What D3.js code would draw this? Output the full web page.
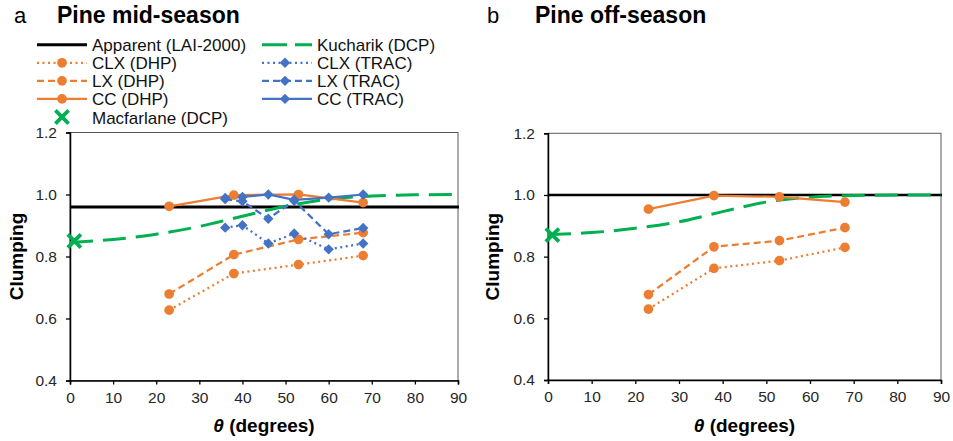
<!DOCTYPE html>
<html>
<head>
<meta charset="utf-8">
<script src="https://cdn.jsdelivr.net/npm/d3@7"></script>
<style>
  body { margin: 0; background: #fff; }
  svg { font-family: "Liberation Sans", Arial, sans-serif; }
</style>
</head>
<body>
<svg id="chart" width="953" height="441"></svg>
<script>
// x values (view zenith angle, degrees)
const dhpAngles = [23, 38, 53, 68];
const tracAngles = [36, 40, 46, 52, 60, 68];
const kucharikAngles = [0, 10, 20, 30, 40, 50, 60, 70, 80, 90];
const xTicks = [0, 10, 20, 30, 40, 50, 60, 70, 80, 90];
const yTicks = [0.4, 0.6, 0.8, 1.0, 1.2];

// panel a: pine mid-season
const midApparent = 0.96;
const midMacfarlane = [1, 0.85];
const midKucharik = [0.845, 0.855, 0.872, 0.897, 0.93, 0.962, 0.985, 0.995, 0.999, 1.0];
const midClxDhp = [0.627, 0.745, 0.774, 0.803];
const midLxDhp = [0.679, 0.806, 0.855, 0.877];
const midCcDhp = [0.962, 0.998, 1.0, 0.974];
const midClxTrac = [0.893, 0.901, 0.842, 0.874, 0.823, 0.842];
const midLxTrac = [0.985, 0.978, 0.922, 0.98, 0.872, 0.892];
const midCcTrac = [0.989, 0.992, 1.0, 0.983, 0.99, 1.0];

// panel b: pine off-season
const offApparent = 1.0;
const offMacfarlane = [1, 0.87];
const offKucharik = [0.872, 0.878, 0.892, 0.913, 0.946, 0.977, 0.993, 0.998, 1.0, 1.0];
const offClxDhp = [0.63, 0.762, 0.787, 0.83];
const offLxDhp = [0.677, 0.832, 0.852, 0.894];
const offCcDhp = [0.954, 0.998, 0.994, 0.977];

const orange = '#ED7D31';
const blue = '#4472C4';
const green = '#00B050';
const dotted = '2,3.5';
const dashed = '7,4';
const longDash = '23,10';
const circleSize = 74;
const diamondSize = 54;

const svg = d3.select('#chart');

function drawPanel(opts) {
  const x = d3.scaleLinear().domain([0, 90]).range(opts.xRange);
  const y = d3.scaleLinear().domain([0.4, 1.2]).range(opts.yRange);
  const g = svg.append('g');

  // plot frame (top and right)
  g.append('rect')
    .attr('x', x(0)).attr('y', y(1.2))
    .attr('width', x(90) - x(0)).attr('height', y(0.4) - y(1.2))
    .attr('fill', 'none').attr('stroke', '#595959').attr('stroke-width', 1);

  const xAxis = g.append('g')
    .attr('transform', `translate(0,${y(0.4)})`)
    .call(d3.axisBottom(x).tickValues(xTicks).tickSize(4).tickPadding(7).tickFormat(d3.format('d')));
  const yAxis = g.append('g')
    .attr('transform', `translate(${x(0)},0)`)
    .call(d3.axisLeft(y).tickValues(yTicks).tickSize(4).tickPadding(9).tickFormat(d3.format('.1f')));
  [xAxis, yAxis].forEach(a => {
    a.select('.domain').attr('stroke', '#000').attr('stroke-width', 1.5);
    a.selectAll('.tick line').attr('stroke', '#000').attr('stroke-width', 1.3);
    a.selectAll('text').attr('font-size', 15.5).attr('fill', '#262626')
      .attr('font-family', '"Liberation Sans", Arial, sans-serif');
  });

  // axis titles
  const xt = g.append('text')
    .attr('x', (x(0) + x(90)) / 2).attr('y', 432)
    .attr('text-anchor', 'middle').attr('font-size', 19).attr('font-weight', 'bold');
  xt.append('tspan').attr('font-style', 'italic').text('θ');
  xt.append('tspan').text(' (degrees)');
  g.append('text')
    .attr('transform', `translate(${opts.yTitleX},${(y(0.4) + y(1.2)) / 2}) rotate(-90)`)
    .attr('text-anchor', 'middle').attr('font-size', 19).attr('font-weight', 'bold')
    .text('Clumping');

  // panel label and title
  g.append('text').attr('x', opts.labelX).attr('y', 23).attr('font-size', 22).text(opts.label);
  g.append('text').attr('x', opts.titleX).attr('y', 23).attr('font-size', 23)
    .attr('font-weight', 'bold').text(opts.title);

  // apparent clumping (LAI-2000)
  g.append('line')
    .attr('x1', x(0)).attr('x2', x(90) + 1)
    .attr('y1', y(opts.apparent)).attr('y2', y(opts.apparent))
    .attr('stroke', '#000').attr('stroke-width', opts.apparentWidth);

  // Kucharik model curve
  const kLine = d3.line().x((d, i) => x(kucharikAngles[i])).y(d => y(d)).curve(d3.curveMonotoneX);
  g.append('path').datum(opts.kucharik)
    .attr('d', kLine).attr('fill', 'none')
    .attr('stroke', green).attr('stroke-width', 3).attr('stroke-dasharray', longDash);

  const series = opts.series;
  series.forEach(s => {
    const line = d3.line().x((d, i) => x(s.angles[i])).y(d => y(d));
    g.append('path').datum(s.values)
      .attr('d', line).attr('fill', 'none')
      .attr('stroke', s.color).attr('stroke-width', 2.25)
      .attr('stroke-dasharray', s.dash);
  });
  series.forEach(s => {
    const pts = g.append('g').selectAll('path').data(s.values).join('path')
      .attr('fill', s.color);
    if (s.marker === 'circle') {
      pts.attr('d', d3.symbol(d3.symbolCircle, circleSize)())
        .attr('transform', (d, i) => `translate(${x(s.angles[i])},${y(d)})`);
    } else {
      pts.attr('d', d3.symbol(d3.symbolSquare, diamondSize)())
        .attr('transform', (d, i) => `translate(${x(s.angles[i])},${y(d)}) rotate(45)`);
    }
  });

  // Macfarlane DCP point
  g.append('path')
    .attr('d', d3.symbol(d3.symbolX, 115)())
    .attr('transform', `translate(${x(opts.macfarlane[0])},${y(opts.macfarlane[1])})`)
    .attr('fill', 'none').attr('stroke', green).attr('stroke-width', 3.8);
}

drawPanel({
  xRange: [70, 458], yRange: [380.5, 132.5], yTitleX: 23,
  label: 'a', labelX: 14, title: 'Pine mid-season', titleX: 57,
  apparent: midApparent, apparentWidth: 3, kucharik: midKucharik, macfarlane: midMacfarlane,
  series: [
    { angles: dhpAngles, values: midClxDhp, color: orange, dash: dotted, marker: 'circle' },
    { angles: dhpAngles, values: midLxDhp, color: orange, dash: dashed, marker: 'circle' },
    { angles: dhpAngles, values: midCcDhp, color: orange, dash: null, marker: 'circle' },
    { angles: tracAngles, values: midClxTrac, color: blue, dash: dotted, marker: 'diamond' },
    { angles: tracAngles, values: midLxTrac, color: blue, dash: dashed, marker: 'diamond' },
    { angles: tracAngles, values: midCcTrac, color: blue, dash: null, marker: 'diamond' }
  ]
});

drawPanel({
  xRange: [548, 941], yRange: [380, 133.3], yTitleX: 499,
  label: 'b', labelX: 487, title: 'Pine off-season', titleX: 535,
  apparent: offApparent, apparentWidth: 2.5, kucharik: offKucharik, macfarlane: offMacfarlane,
  series: [
    { angles: dhpAngles, values: offClxDhp, color: orange, dash: dotted, marker: 'circle' },
    { angles: dhpAngles, values: offLxDhp, color: orange, dash: dashed, marker: 'circle' },
    { angles: dhpAngles, values: offCcDhp, color: orange, dash: null, marker: 'circle' }
  ]
});

// legend
const legendItems = [
  { label: 'Apparent (LAI-2000)', col: 0, row: 0, color: '#000', dash: null, width: 3, marker: null },
  { label: 'Kucharik (DCP)', col: 1, row: 0, color: green, dash: '25,8', width: 3, marker: null },
  { label: 'CLX (DHP)', col: 0, row: 1, color: orange, dash: dotted, width: 2.25, marker: 'circle' },
  { label: 'CLX (TRAC)', col: 1, row: 1, color: blue, dash: dotted, width: 2.25, marker: 'diamond' },
  { label: 'LX (DHP)', col: 0, row: 2, color: orange, dash: dashed, width: 2.25, marker: 'circle' },
  { label: 'LX (TRAC)', col: 1, row: 2, color: blue, dash: dashed, width: 2.25, marker: 'diamond' },
  { label: 'CC (DHP)', col: 0, row: 3, color: orange, dash: null, width: 2.25, marker: 'circle' },
  { label: 'CC (TRAC)', col: 1, row: 3, color: blue, dash: null, width: 2.25, marker: 'diamond' },
  { label: 'Macfarlane (DCP)', col: 0, row: 4, color: green, dash: null, width: 0, marker: 'x' }
];
const legendX = [37, 262];
const legendY = d3.scaleLinear().domain([0, 4]).range([44.7, 117]);
const legend = svg.append('g').selectAll('g').data(legendItems).join('g')
  .attr('transform', d => `translate(${legendX[d.col]},${legendY(d.row)})`);
legend.filter(d => d.width > 0).append('line')
  .attr('x1', 0).attr('x2', 50).attr('y1', 0).attr('y2', 0)
  .attr('stroke', d => d.color).attr('stroke-width', d => d.width)
  .attr('stroke-dasharray', d => d.dash);
legend.filter(d => d.marker === 'circle').append('path')
  .attr('d', d3.symbol(d3.symbolCircle, circleSize)()).attr('transform', 'translate(25,0)')
  .attr('fill', d => d.color);
legend.filter(d => d.marker === 'diamond').append('path')
  .attr('d', d3.symbol(d3.symbolSquare, diamondSize)()).attr('transform', 'translate(23,0) rotate(45)')
  .attr('fill', d => d.color);
legend.filter(d => d.marker === 'x').append('path')
  .attr('d', d3.symbol(d3.symbolX, 115)()).attr('transform', 'translate(25,0)')
  .attr('fill', 'none').attr('stroke', d => d.color).attr('stroke-width', 3.8);
legend.append('text')
  .attr('x', 55).attr('y', 6.5).attr('font-size', 17).attr('fill', '#111')
  .text(d => d.label);
</script>
</body>
</html>
